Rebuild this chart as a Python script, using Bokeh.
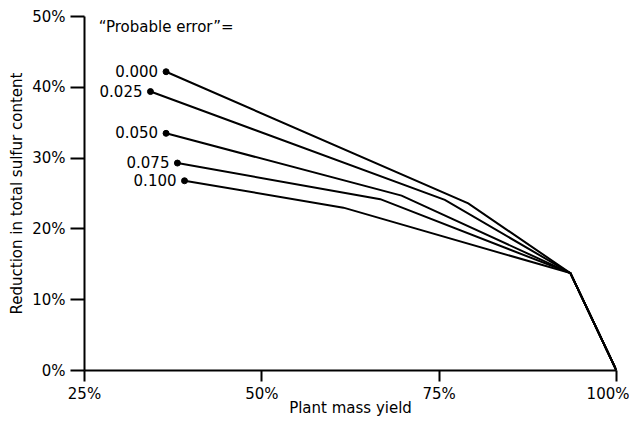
from bokeh.plotting import figure
from bokeh.models import Range1d, FixedTicker, PrintfTickFormatter, ColumnDataSource
from bokeh.core.properties import value
from bokeh.embed import file_html
from bokeh.resources import INLINE

# ---- data ----
errors = ["0.000", "0.025", "0.050", "0.075", "0.100"]
start_x = [36.5, 34.3, 36.5, 38.1, 39.1]
start_y = [42.2, 39.4, 33.5, 29.3, 26.8]
kink_x = [79.1, 75.8, 69.7, 66.7, 61.5]
kink_y = [23.6, 24.1, 24.7, 24.2, 23.0]
merge_x, merge_y = 93.5, 13.75
end_x, end_y = 100.0, 0.0
x_ticks = [25, 50, 75, 100]
y_ticks = [0, 10, 20, 30, 40, 50]

FONT = "DejaVu Sans"
FS = "15px"

p = figure(width=629, height=419, output_backend="svg", toolbar_location=None,
           x_range=Range1d(25, 100), y_range=Range1d(0, 50),
           min_border_left=84, min_border_right=13, min_border_top=16, min_border_bottom=40)
p.outline_line_color = None
p.xgrid.visible = False
p.ygrid.visible = False
p.background_fill_color = "white"
p.border_fill_color = "white"

for ax in (p.xaxis[0], p.yaxis[0]):
    ax.axis_line_width = 2
    ax.axis_line_color = "black"
    ax.major_tick_line_width = 2
    ax.major_tick_line_color = "black"
    ax.major_tick_in = 0
    ax.minor_tick_line_color = None
    ax.major_label_text_font = FONT
    ax.major_label_text_font_size = FS
    ax.major_label_text_color = "black"
    ax.axis_label_text_font = FONT
    ax.axis_label_text_font_size = FS
    ax.axis_label_text_font_style = "normal"
    ax.axis_label_text_color = "black"
    ax.formatter = PrintfTickFormatter(format="%d%%")

p.xaxis.ticker = FixedTicker(ticks=x_ticks)
p.yaxis.ticker = FixedTicker(ticks=y_ticks)
p.xaxis.major_tick_out = 11
p.yaxis.major_tick_out = 14
p.xaxis.major_label_standoff = 3
p.yaxis.major_label_standoff = 5
p.xaxis.axis_label = "Plant mass yield"
p.yaxis.axis_label = "Reduction in total sulfur content"
p.xaxis.axis_label_standoff = -7
p.yaxis.axis_label_standoff = 3

# lines
xs = [[sx, kx, merge_x, end_x] for sx, kx in zip(start_x, kink_x)]
ys = [[sy, ky, merge_y, end_y] for sy, ky in zip(start_y, kink_y)]
p.multi_line(xs=xs, ys=ys, line_color="black", line_width=2, line_join="miter")

src = ColumnDataSource(dict(x=start_x, y=start_y, t=errors))
p.scatter("x", "y", source=src, size=6, color="black")
p.text("x", "y", text="t", source=src, text_align="right", text_baseline="middle",
       x_offset=-8, y_offset=-1, text_font=value(FONT), text_font_size=FS, text_color="black")

p.text(x=[27.0], y=[48.5], text=["\u201cProbable error\u201d="], text_align="left",
       text_baseline="middle", text_font=value(FONT), text_font_size=FS, text_color="black")

open("out.html", "w").write(file_html(p, INLINE))
